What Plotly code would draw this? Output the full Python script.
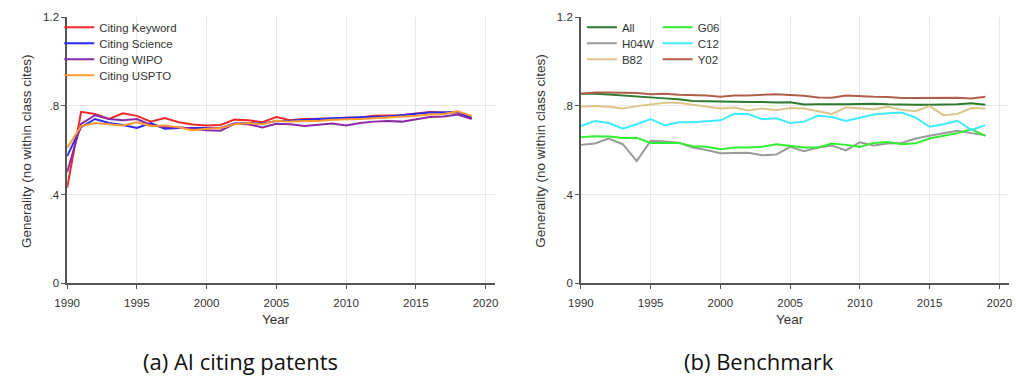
import plotly.graph_objects as go

years = list(range(1990, 2020))

# (a) AI citing patents
citing_keyword = [0.430, 0.773, 0.763, 0.741, 0.767, 0.755, 0.729, 0.745, 0.726, 0.716,
                  0.712, 0.714, 0.738, 0.735, 0.726, 0.750, 0.735, 0.741, 0.742, 0.742,
                  0.747, 0.748, 0.755, 0.758, 0.758, 0.766, 0.773, 0.770, 0.770, 0.748]
citing_science = [0.573, 0.704, 0.741, 0.723, 0.714, 0.700, 0.723, 0.697, 0.700, 0.700,
                  0.697, 0.700, 0.720, 0.723, 0.720, 0.732, 0.733, 0.738, 0.741, 0.744,
                  0.747, 0.750, 0.751, 0.752, 0.758, 0.761, 0.770, 0.770, 0.773, 0.744]
citing_wipo = [0.500, 0.719, 0.758, 0.741, 0.735, 0.741, 0.714, 0.704, 0.704, 0.697,
               0.690, 0.688, 0.719, 0.717, 0.703, 0.719, 0.717, 0.709, 0.714, 0.720,
               0.712, 0.723, 0.729, 0.732, 0.729, 0.738, 0.750, 0.752, 0.761, 0.741]
citing_uspto = [0.610, 0.709, 0.723, 0.719, 0.712, 0.726, 0.709, 0.712, 0.703, 0.690,
                0.697, 0.700, 0.717, 0.723, 0.717, 0.733, 0.729, 0.732, 0.732, 0.738,
                0.738, 0.741, 0.744, 0.747, 0.750, 0.755, 0.761, 0.763, 0.776, 0.755]

# (b) Benchmark
bench_all = [0.855, 0.855, 0.851, 0.846, 0.841, 0.838, 0.834, 0.830, 0.822, 0.821,
             0.819, 0.819, 0.818, 0.818, 0.815, 0.816, 0.806, 0.807, 0.806, 0.808,
             0.809, 0.810, 0.807, 0.805, 0.805, 0.805, 0.806, 0.807, 0.812, 0.805]
bench_h04w = [0.624, 0.630, 0.652, 0.627, 0.551, 0.642, 0.639, 0.634, 0.612, 0.601,
              0.586, 0.588, 0.588, 0.577, 0.580, 0.615, 0.595, 0.612, 0.621, 0.599,
              0.636, 0.621, 0.630, 0.633, 0.653, 0.665, 0.675, 0.688, 0.677, 0.668]
bench_b82 = [0.796, 0.799, 0.796, 0.788, 0.799, 0.808, 0.814, 0.814, 0.805, 0.799,
             0.788, 0.793, 0.779, 0.788, 0.780, 0.790, 0.788, 0.776, 0.764, 0.793,
             0.788, 0.785, 0.796, 0.782, 0.776, 0.799, 0.758, 0.764, 0.790, 0.788]
bench_g06 = [0.659, 0.663, 0.662, 0.655, 0.656, 0.633, 0.633, 0.633, 0.618, 0.615,
             0.604, 0.612, 0.612, 0.615, 0.627, 0.618, 0.612, 0.612, 0.630, 0.624,
             0.615, 0.633, 0.637, 0.627, 0.631, 0.653, 0.665, 0.677, 0.694, 0.665]
bench_c12 = [0.709, 0.732, 0.723, 0.697, 0.717, 0.741, 0.712, 0.726, 0.726, 0.732,
             0.735, 0.764, 0.763, 0.740, 0.744, 0.723, 0.729, 0.755, 0.750, 0.732,
             0.747, 0.761, 0.767, 0.770, 0.747, 0.706, 0.717, 0.733, 0.691, 0.713]
bench_y02 = [0.855, 0.861, 0.860, 0.859, 0.858, 0.853, 0.855, 0.850, 0.849, 0.847,
             0.841, 0.847, 0.847, 0.849, 0.853, 0.849, 0.846, 0.838, 0.837, 0.847,
             0.843, 0.841, 0.840, 0.836, 0.836, 0.836, 0.834, 0.837, 0.833, 0.841]

y_tickvals = [0, 0.4, 0.8, 1.2]
y_ticktext = ["0", ".4", ".8", "1.2"]
x_tickvals = [1990, 1995, 2000, 2005, 2010, 2015, 2020]

W, H = 1016, 383
SANS = "Liberation Sans, Arial, sans-serif"
TICK_FONT = dict(family=SANS, size=11.5, color="#333333")
LEGEND_FONT = dict(family=SANS, size=11.5, color="#333333")

# series: (name, values, colour, axis suffix, legend column x in px)
series = [
    ("Citing Keyword", citing_keyword, "#ee2a2a", "", 47),
    ("Citing Science", citing_science, "#2b2bee", "", 47),
    ("Citing WIPO", citing_wipo, "#8a2aa8", "", 47),
    ("Citing USPTO", citing_uspto, "#ff9a30", "", 47),
    ("All", bench_all, "#2e7a2e", "2", 578),
    ("H04W", bench_h04w, "#9a9a9a", "2", 578),
    ("B82", bench_b82, "#dcc589", "2", 578),
    ("G06", bench_g06, "#33ee33", "2", 655),
    ("C12", bench_c12, "#40eaff", "2", 655),
    ("Y02", bench_y02, "#b0604a", "2", 655),
]
legend_rows_px = [22, 38.5, 55, 71.5]

fig = go.Figure()
legends = {}
row_counter = {}
for i, (name, vals, col, ax, lx) in enumerate(series):
    lname = "legend" if i == 0 else f"legend{i + 1}"
    row = row_counter.get(lx, 0)
    row_counter[lx] = row + 1
    fig.add_trace(go.Scatter(x=years, y=vals, name=name, mode="lines",
                             line=dict(color=col, width=2),
                             xaxis="x" + ax, yaxis="y" + ax, legend=lname))
    legends[lname] = dict(x=lx / W, y=1 - legend_rows_px[row] / H,
                          xanchor="left", yanchor="middle",
                          bgcolor="rgba(0,0,0,0)", borderwidth=0,
                          font=LEGEND_FONT, itemwidth=30, orientation="v")

# plot area geometry in pixels
y_bot, y_top = 286, 11.7
yd = [1 - y_bot / H, 1 - y_top / H]
left_px = (55, 490)
right_px = (577, 1012)

def xaxis_style(domain, anchor):
    return dict(domain=[domain[0] / W, domain[1] / W], anchor=anchor,
                range=[1990, 2020.7], tickvals=x_tickvals,
                showgrid=True, gridcolor="#e8e8e8", gridwidth=1,
                showline=True, linecolor="#555555", linewidth=1.5,
                ticks="outside", ticklen=4, tickcolor="#555555",
                ticklabelstandoff=4,
                tickfont=TICK_FONT, zeroline=False)

def yaxis_style(anchor):
    return dict(domain=yd, anchor=anchor, range=[0, 1.2],
                tickvals=y_tickvals, ticktext=y_ticktext,
                showgrid=True, gridcolor="#e8e8e8", gridwidth=1,
                showline=True, linecolor="#555555", linewidth=1.5,
                ticks="outside", ticklen=4, tickcolor="#555555",
                tickfont=TICK_FONT, zeroline=False)

fig.update_layout(
    width=W, height=H,
    margin=dict(l=0, r=0, t=0, b=0),
    paper_bgcolor="white", plot_bgcolor="white",
    xaxis=xaxis_style(left_px, "y"),
    yaxis=yaxis_style("x"),
    xaxis2=xaxis_style(right_px, "y2"),
    yaxis2=yaxis_style("x2"),
    showlegend=True,
    **legends,
)

axis_title_font = dict(family=SANS, size=13.5, color="#333333")
annotations = []
for xc, ytitle_x in [((55 + 480) / 2, 14), ((577 + 1002) / 2, 536)]:
    annotations.append(dict(text="Year", x=xc / W, y=1 - 324 / H, xref="paper", yref="paper",
                            showarrow=False, font=axis_title_font,
                            xanchor="center", yanchor="middle"))
    annotations.append(dict(text="Generality (no within class cites)",
                            x=ytitle_x / W, y=1 - 150 / H, xref="paper", yref="paper",
                            showarrow=False, textangle=-90, font=axis_title_font,
                            xanchor="center", yanchor="middle"))

caption_font = dict(family="Open Sans, sans-serif", size=22, color="#111111")
annotations.append(dict(text="(a) AI citing patents", x=231 / W, y=1 - 366 / H,
                        xref="paper", yref="paper", showarrow=False, font=caption_font,
                        xanchor="center", yanchor="middle"))
annotations.append(dict(text="(b) Benchmark", x=758 / W, y=1 - 366 / H,
                        xref="paper", yref="paper", showarrow=False, font=caption_font,
                        xanchor="center", yanchor="middle"))
fig.update_layout(annotations=annotations)

fig.write_html("out.html")
